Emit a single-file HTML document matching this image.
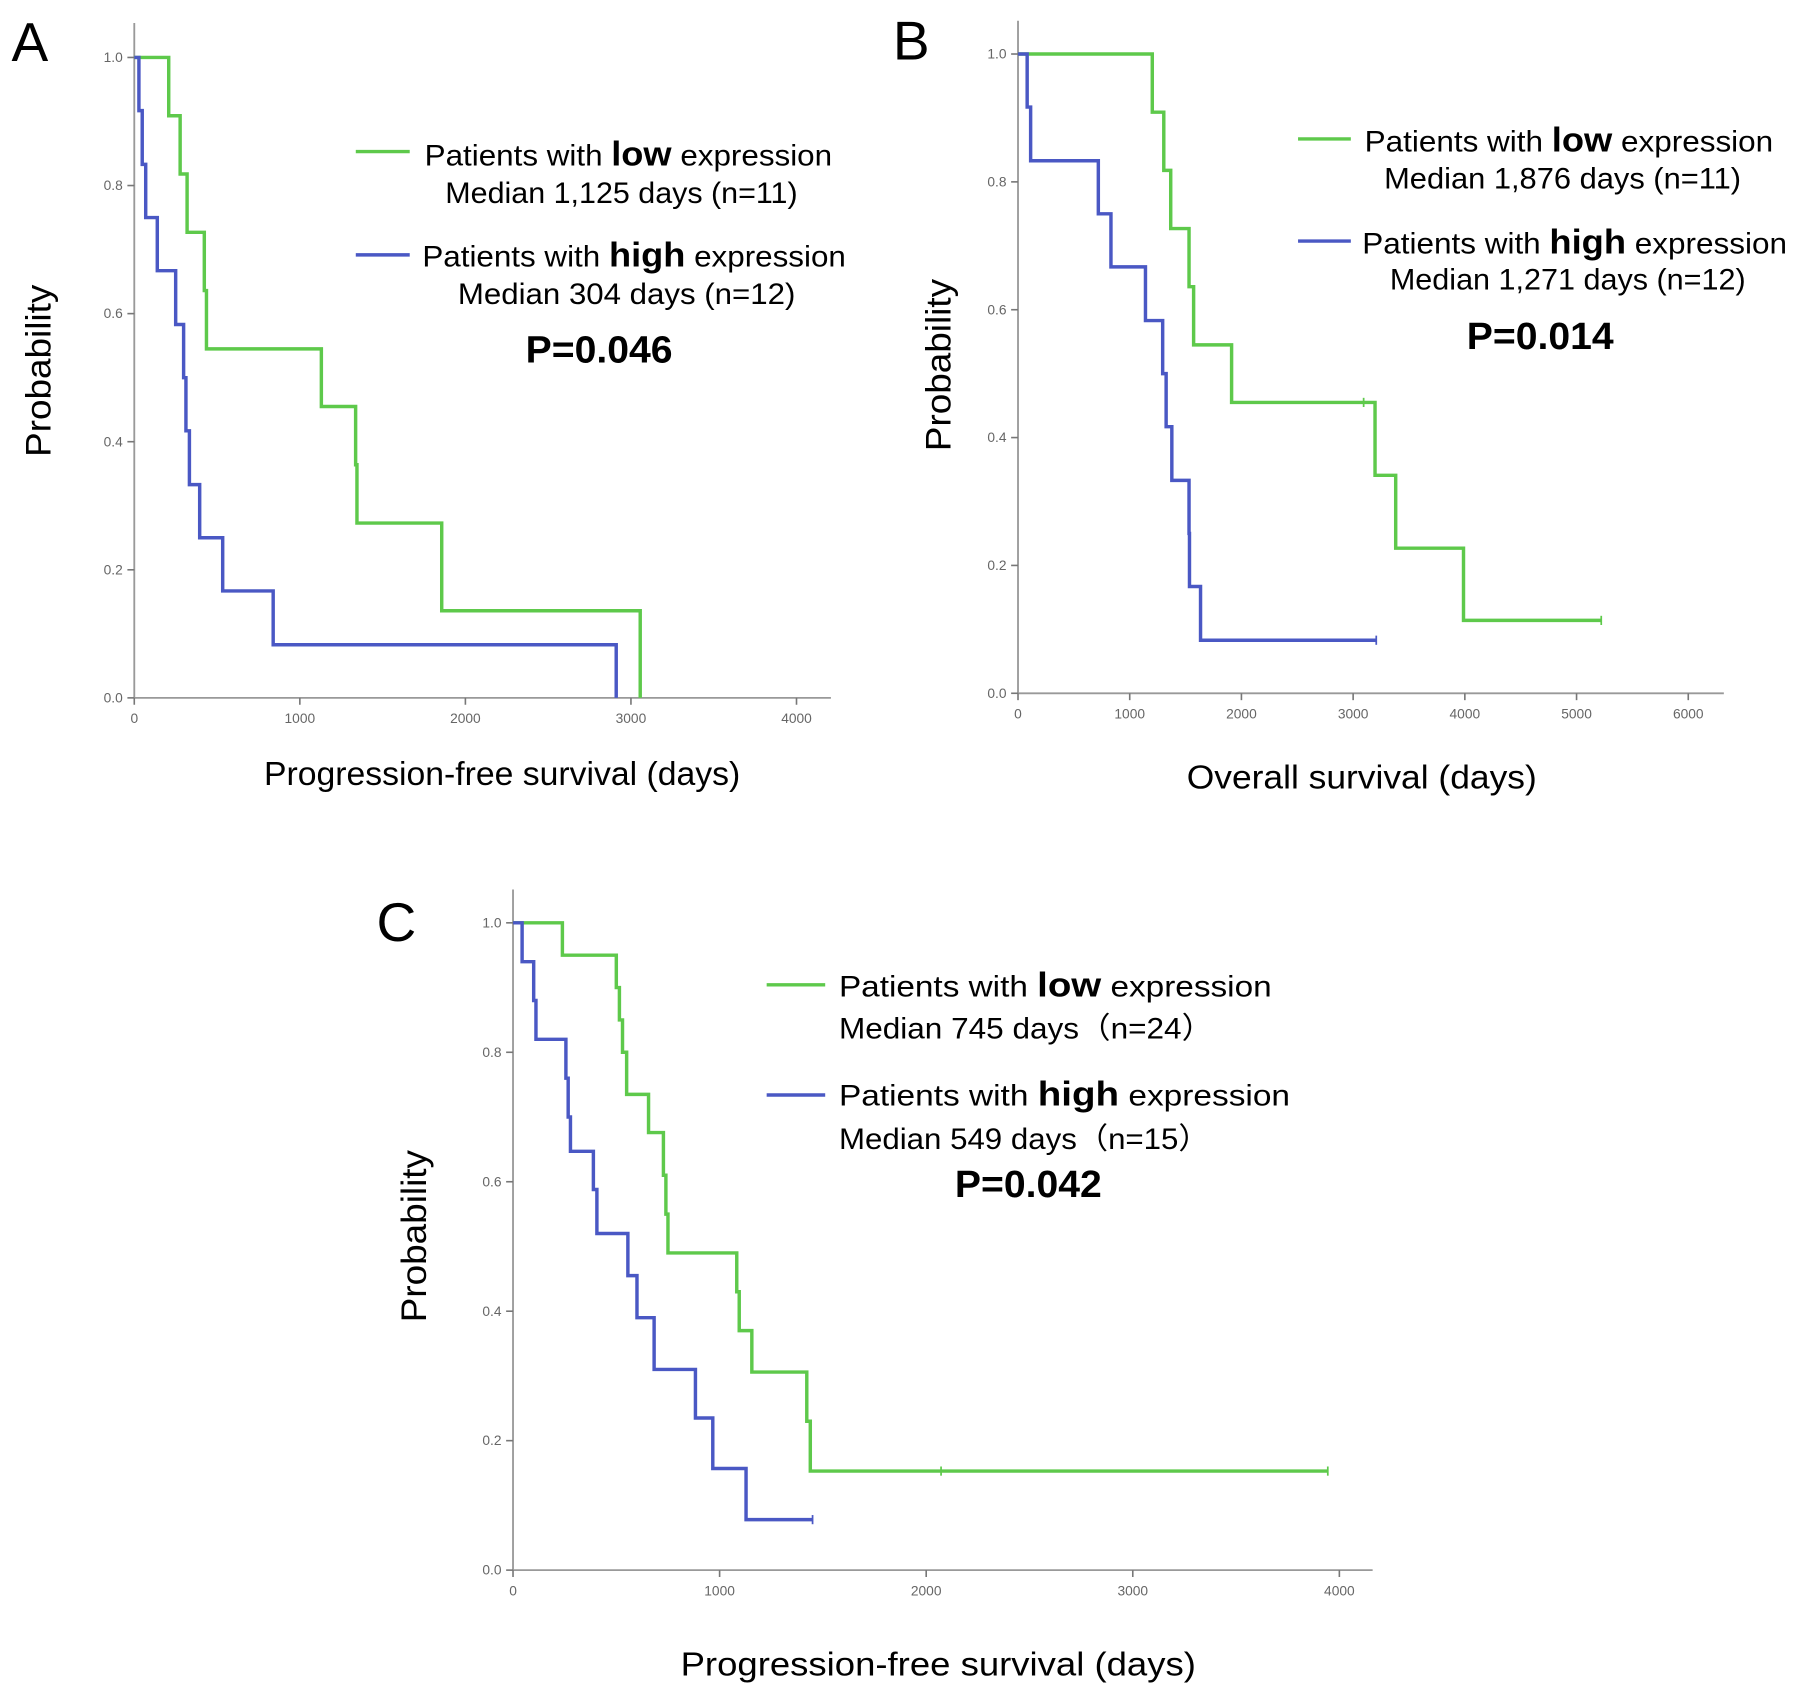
<!DOCTYPE html>
<html><head><meta charset="utf-8"><style>
html,body{margin:0;padding:0;background:#fff;}
svg{display:block;font-family:"Liberation Sans",Arial,sans-serif;}
</style></head><body>
<svg id="fig" width="1795" height="1693" viewBox="0 0 1564 1475" xmlns="http://www.w3.org/2000/svg">
<g id="panels"></g>
</svg>
<script>
// Panel A data
const aXTicks=[0,1000,2000,3000,4000];
const aLowT=[208,277,319,423,436,1130,1337,1345,1857,3056];
const aLowS=[0.909,0.818,0.727,0.636,0.545,0.455,0.364,0.273,0.136,0];
const aHighT=[28,48,69,139,250,298,312,333,395,534,839,2911];
const aHighS=[0.917,0.833,0.75,0.667,0.583,0.5,0.417,0.333,0.25,0.167,0.083,0];
// Panel B data
const bXTicks=[0,1000,2000,3000,4000,5000,6000];
const bLowT=[1202,1305,1367,1531,1572,1912,3196,3381,3988];
const bLowS=[0.909,0.818,0.727,0.636,0.545,0.455,0.341,0.227,0.114];
const bLowEnd=5221;
const bLowCens=[3094,5221];
const bHighT=[82,113,719,832,1141,1295,1326,1377,1531,1535,1634];
const bHighS=[0.917,0.833,0.75,0.667,0.583,0.5,0.417,0.333,0.25,0.167,0.083];
const bHighEnd=3207;
const bHighCens=[3207];
// Panel C data
const cXTicks=[0,1000,2000,3000,4000];
const cLowT=[239,500,515,530,550,656,728,740,750,1083,1095,1156,1422,1439];
const cLowS=[0.95,0.90,0.85,0.80,0.735,0.676,0.61,0.55,0.49,0.43,0.37,0.306,0.23,0.153];
const cLowEnd=3944;
const cLowCens=[2072,3944];
const cHighT=[44,100,111,256,267,278,389,406,556,600,683,883,967,1128];
const cHighS=[0.94,0.88,0.82,0.76,0.70,0.647,0.588,0.52,0.455,0.39,0.31,0.235,0.157,0.078];
const cHighEnd=1450;
const cHighCens=[1450];
const yTicks=[0,0.2,0.4,0.6,0.8,1.0];

const NS="http://www.w3.org/2000/svg";
const root=document.getElementById('panels');
function mk(tag,attrs,parent){const e=document.createElementNS(NS,tag);for(const k in attrs)e.setAttribute(k,attrs[k]);(parent||root).appendChild(e);return e;}

function panel(cfg){
  const g=mk('g',{});
  
  
  const sx=v=>cfg.x0+v*(cfg.x1-cfg.x0)/cfg.xmax;
  const sy=v=>cfg.y0-v*(cfg.y0-cfg.y1);
  const ya=mk('line',{x1:cfg.x0,y1:cfg.top,x2:cfg.x0,y2:cfg.y0,stroke:'#999','stroke-width':1.6},g);
  
  const xa=mk('line',{x1:cfg.x0,y1:cfg.y0,x2:cfg.xend,y2:cfg.y0,stroke:'#999','stroke-width':1.6},g);
  
  yTicks.forEach(v=>{
    const y=sy(v);
    mk('line',{x1:cfg.x0-6,y1:y,x2:cfg.x0,y2:y,stroke:'#777','stroke-width':1.4},g);
    const t=mk('text',{x:cfg.x0-10,y:y+4,'font-size':12,fill:'#666','text-anchor':'end'},g);
    t.textContent=v.toFixed(1);
    
  });
  cfg.xticks.forEach(v=>{
    const x=sx(v);
    mk('line',{x1:x,y1:cfg.y0,x2:x,y2:cfg.y0+6,stroke:'#777','stroke-width':1.4},g);
    const t=mk('text',{x:x,y:cfg.y0+22,'font-size':12,fill:'#666','text-anchor':'middle'},g);
    t.textContent=String(v);
    
  });
  function curve(T,S,end,cens,color,name){
    let d='M'+sx(0)+','+sy(1);
    for(let i=0;i<T.length;i++){d+=' H'+sx(T[i])+' V'+sy(S[i]);}
    if(end!=null)d+=' H'+sx(end);
    const p=mk('path',{d:d,fill:'none',stroke:color,'stroke-width':3},g);
    
    (cens||[]).forEach(c=>{
      let s=1;for(let i=0;i<T.length;i++)if(T[i]<=c)s=S[i];
      const m=mk('line',{x1:sx(c),y1:sy(s)-4,x2:sx(c),y2:sy(s)+4,stroke:color,'stroke-width':1.5},g);
      
    });
  }
  curve(cfg.lowT,cfg.lowS,cfg.lowEnd,cfg.lowCens,'#5ec94b','low-expression-curve');
  curve(cfg.highT,cfg.highS,cfg.highEnd,cfg.highCens,'#4a58c4','high-expression-curve');
  const L=mk('text',{x:cfg.lx,y:cfg.ly,'font-size':48},g);L.textContent=cfg.id;
  
  const yt=mk('text',{x:0,y:0,'font-size':31,'text-anchor':'middle',textLength:150,lengthAdjust:'spacingAndGlyphs',transform:`translate(${cfg.ytx},${cfg.yty}) rotate(-90)`},g);
  yt.textContent='Probability';
  const xt=mk('text',{x:cfg.xtx,y:cfg.xty,'font-size':29,textLength:cfg.xtw,lengthAdjust:'spacingAndGlyphs'},g);
  xt.textContent=cfg.xtitle;
  const lg=cfg.leg;
  lg.rows.forEach(r=>{
    const ln=mk('line',{x1:lg.lx1,y1:r.ly,x2:lg.lx2,y2:r.ly,stroke:r.c,'stroke-width':3},g);
    
    const t=mk('text',{x:r.tx,y:r.ty,'font-size':26,textLength:r.tw,lengthAdjust:'spacingAndGlyphs'},g);
    t.innerHTML='Patients with <tspan font-weight="bold" font-size="30">'+r.k+'</tspan> expression';
    
    const m=mk('text',{x:r.mx,y:r.my,'font-size':26,textLength:r.mw,lengthAdjust:'spacingAndGlyphs'},g);m.textContent=r.m;
    
  });
  const p=mk('text',{x:lg.px,y:lg.py,'font-size':33,'font-weight':'bold',textLength:128,lengthAdjust:'spacingAndGlyphs'},g);
  p.textContent=lg.p;
}
const G='#5ec94b',B='#4a58c4';
panel({id:'A',x0:117,x1:694,xmax:4000,y0:608,y1:50,top:20,xend:724,xticks:aXTicks,
  lowT:aLowT,lowS:aLowS,lowEnd:null,lowCens:[],highT:aHighT,highS:aHighS,highEnd:null,highCens:[],
  lx:10,ly:53,ytx:44,yty:323,xtx:230,xty:684,xtw:415,xtitle:'Progression-free survival (days)',
  leg:{lx1:310,lx2:357,p:'P=0.046',px:458,py:316,rows:[
   {k:'low',c:G,ly:132,tx:370,ty:144,tw:355,m:'Median 1,125 days (n=11)',mx:388,my:177,mw:307},
   {k:'high',c:B,ly:222,tx:368,ty:232,tw:369,m:'Median 304 days (n=12)',mx:399,my:265,mw:294}]}});
panel({id:'B',x0:887,x1:1471,xmax:6000,y0:604,y1:47,top:18,xend:1502,xticks:bXTicks,
  lowT:bLowT,lowS:bLowS,lowEnd:bLowEnd,lowCens:bLowCens,highT:bHighT,highS:bHighS,highEnd:bHighEnd,highCens:bHighCens,
  lx:778,ly:52,ytx:828,yty:318,xtx:1034,xty:687,xtw:305,xtitle:'Overall survival (days)',
  leg:{lx1:1131,lx2:1177,p:'P=0.014',px:1278,py:304,rows:[
   {k:'low',c:G,ly:121,tx:1189,ty:132,tw:356,m:'Median 1,876 days (n=11)',mx:1206,my:164,mw:311},
   {k:'high',c:B,ly:210,tx:1187,ty:221,tw:370,m:'Median 1,271 days (n=12)',mx:1211,my:252,mw:310}]}});
panel({id:'C',x0:447,x1:1167,xmax:4000,y0:1368,y1:804,top:775,xend:1196,xticks:cXTicks,
  lowT:cLowT,lowS:cLowS,lowEnd:cLowEnd,lowCens:cLowCens,highT:cHighT,highS:cHighS,highEnd:cHighEnd,highCens:cHighCens,
  lx:328,ly:820,ytx:371,yty:1077,xtx:593,xty:1460,xtw:449,xtitle:'Progression-free survival (days)',
  leg:{lx1:668,lx2:719,p:'P=0.042',px:832,py:1043,rows:[
   {k:'low',c:G,ly:858,tx:731,ty:868,tw:377,m:'Median  745 days（n=24）',mx:731,my:905,mw:326},
   {k:'high',c:B,ly:954,tx:731,ty:963,tw:393,m:'Median  549 days（n=15）',mx:731,my:1001,mw:323}]}});
</script>
</body></html>
